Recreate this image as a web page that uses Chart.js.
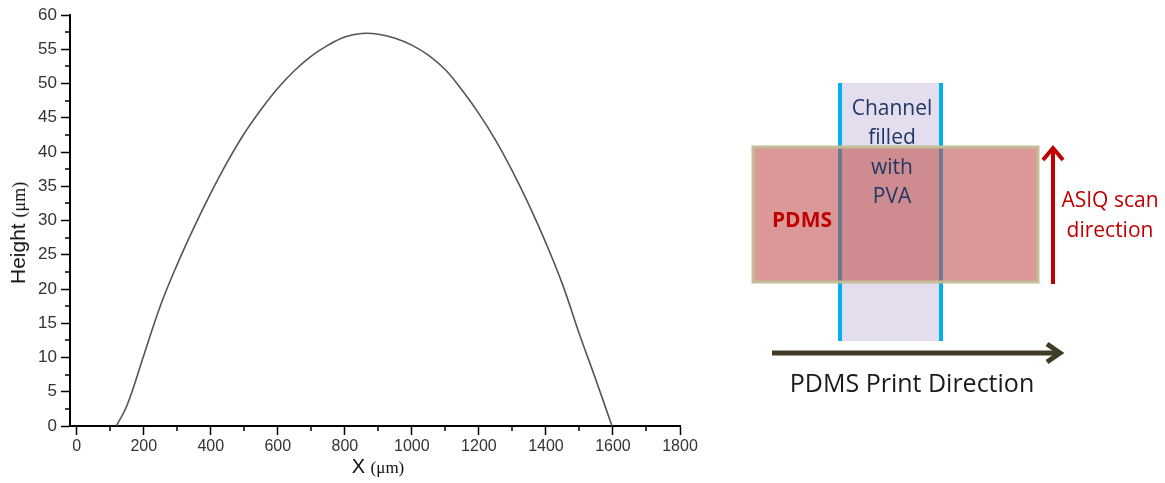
<!DOCTYPE html>
<html>
<head>
<meta charset="utf-8">
<script src="https://cdn.jsdelivr.net/npm/chart.js@4.4.1/dist/chart.umd.min.js"></script>
<style>
  body { margin: 0; background: #fff; width: 1165px; height: 483px; position: relative; overflow: hidden; }
  #plot { position: absolute; left: 0; top: 0; width: 720px; height: 483px; }
  .ttl { position: absolute; color: #111; font-family: "Liberation Sans", Arial, sans-serif; font-size: 20px; white-space: nowrap; }
  .ttl span { font-family: "Liberation Serif", "Times New Roman", serif; font-size: 17px; }
  #ytitle { left: 18px; top: 233px; transform: translate(-50%, -50%) rotate(-90deg); font-size: 21px; }
  #ytitle span { font-size: 18px; }
  #xtitle { left: 378px; top: 466px; transform: translate(-50%, -50%); }
  #diagram { position: absolute; left: 0; top: 0; }
</style>
</head>
<body>
<div id="plot"><canvas id="profile-chart"></canvas></div>
<div class="ttl" id="ytitle">Height <span>(&mu;m)</span></div>
<div class="ttl" id="xtitle">X <span>(&mu;m)</span></div>

<svg id="diagram" width="1165" height="483" xmlns="http://www.w3.org/2000/svg">
  <!-- PVA channel -->
  <rect x="840" y="83" width="101" height="258" fill="#e3dded"/>
  <line x1="840" y1="83" x2="840" y2="341" stroke="#00b0f0" stroke-width="4"/>
  <line x1="941" y1="83" x2="941" y2="341" stroke="#00b0f0" stroke-width="4"/>
  <!-- PDMS block -->
  <rect x="753" y="147" width="285" height="135" fill="rgba(192,80,77,0.58)" stroke="#c4bd97" stroke-width="3"/>
  <g font-family="'Open Sans', 'Liberation Sans', sans-serif" font-size="21" fill="#1f3864" text-anchor="middle">
    <text x="892" y="115">Channel</text>
    <text x="892" y="144">filled</text>
    <text x="892" y="174">with</text>
    <text x="892" y="203">PVA</text>
  </g>
  <text x="802" y="227" font-family="'Open Sans', 'Liberation Sans', sans-serif" font-size="21" font-weight="bold" fill="#c00000" text-anchor="middle">PDMS</text>
  <!-- scan arrow -->
  <line x1="1053" y1="284" x2="1053" y2="148" stroke="#c00000" stroke-width="4"/>
  <polyline points="1043,160 1053,148 1063,160" fill="none" stroke="#c00000" stroke-width="4"/>
  <g font-family="'Open Sans', 'Liberation Sans', sans-serif" font-size="21" fill="#c00000" text-anchor="middle">
    <text x="1110" y="207">ASIQ scan</text>
    <text x="1110" y="237">direction</text>
  </g>
  <!-- print arrow -->
  <line x1="772" y1="353" x2="1060" y2="353" stroke="#403c28" stroke-width="5"/>
  <polyline points="1047,344 1060,353 1047,362" fill="none" stroke="#403c28" stroke-width="5"/>
  <text x="912" y="392" font-family="'Open Sans', 'Liberation Sans', sans-serif" font-size="25" fill="#1a1a1a" text-anchor="middle">PDMS Print Direction</text>
</svg>

<script>
// Profile (X in µm, height in µm)
const xValues = [118, 150, 200, 250, 300, 350, 400, 450, 500, 550, 600, 650, 700, 750, 800, 850,
                 900, 950, 1000, 1050, 1100, 1150, 1200, 1250, 1300, 1350, 1400, 1450, 1500, 1550, 1597];
const heights = [0, 3.0, 10.3, 17.6, 23.6, 29.0, 34.0, 38.6, 42.7, 46.2, 49.3, 51.9, 54.0, 55.6, 56.8, 57.3,
                 57.2, 56.6, 55.6, 54.1, 52.0, 49.0, 45.6, 41.7, 37.2, 32.2, 26.7, 20.6, 13.4, 6.6, 0];

const xTicks = [0, 200, 400, 600, 800, 1000, 1200, 1400, 1600, 1800];
const xMinorTicks = [100, 300, 500, 700, 900, 1100, 1300, 1500, 1700];
const yTicks = [0, 5, 10, 15, 20, 25, 30, 35, 40, 45, 50, 55, 60];
const yMinorTicks = [2.5, 7.5, 12.5, 17.5, 22.5, 27.5, 32.5, 37.5, 42.5, 47.5, 52.5, 57.5];

const points = xValues.map((x, i) => ({ x: x, y: heights[i] }));

// short minor ticks, like the Origin-style axes
const minorTicks = {
    id: 'minorTicks',
    afterDraw(chart) {
        const ctx = chart.ctx;
        const xs = chart.scales.x, ys = chart.scales.y;
        ctx.save();
        ctx.strokeStyle = '#000';
        ctx.lineWidth = 1.5;
        ctx.beginPath();
        xMinorTicks.forEach(v => {
            const px = Math.round(xs.getPixelForValue(v));
            ctx.moveTo(px, ys.bottom);
            ctx.lineTo(px, ys.bottom + 5);
        });
        yMinorTicks.forEach(v => {
            const py = Math.round(ys.getPixelForValue(v));
            ctx.moveTo(xs.left - 5, py);
            ctx.lineTo(xs.left, py);
        });
        ctx.stroke();
        ctx.restore();
    }
};

const fontFamily = '"Liberation Sans", Arial, sans-serif';

new Chart(document.getElementById('profile-chart'), {
    type: 'line',
    data: {
        datasets: [{
            data: points,
            borderColor: '#555',
            borderWidth: 1.6,
            pointRadius: 0,
            fill: false,
            tension: 0.4
        }]
    },
    options: {
        responsive: true,
        maintainAspectRatio: false,
        animation: false,
        layout: { padding: { top: 15, right: 40, left: 0, bottom: 0 } },
        plugins: { legend: { display: false }, tooltip: { enabled: false } },
        scales: {
            x: {
                type: 'linear',
                min: -20,
                max: 1800,
                afterBuildTicks: scale => { scale.ticks = xTicks.map(v => ({ value: v })); },
                afterFit: scale => { scale.height = 57; },
                ticks: {
                    font: { family: fontFamily, size: 16 }, color: '#333',
                    maxRotation: 0, autoSkip: false, padding: 2,
                    callback: v => String(v)
                },
                grid: { drawOnChartArea: false, tickLength: 9, tickColor: '#000', tickWidth: 1.5 },
                border: { color: '#000', width: 2 }
            },
            y: {
                min: 0,
                max: 60,
                afterBuildTicks: scale => { scale.ticks = yTicks.map(v => ({ value: v })); },
                afterFit: scale => { scale.width = 70; },
                ticks: {
                    font: { family: fontFamily, size: 17 }, color: '#333', padding: 4,
                    callback: v => String(v)
                },
                grid: { drawOnChartArea: false, tickLength: 9, tickColor: '#000', tickWidth: 1.5 },
                border: { color: '#000', width: 2 }
            }
        }
    },
    plugins: [minorTicks]
});
</script>
</body>
</html>
